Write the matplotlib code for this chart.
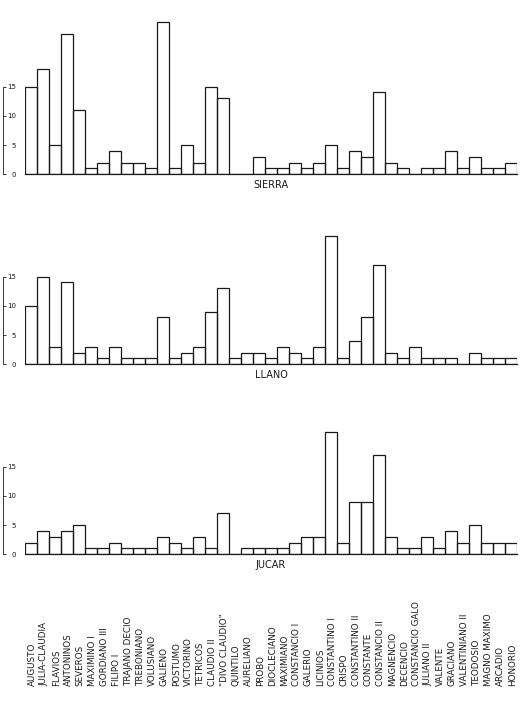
import matplotlib.pyplot as plt
import matplotlib.transforms as mtransforms
import numpy as np

emperors = ['AUGUSTO', 'JULIA-CLAUDIA', 'FLAVIOS', 'ANTONINOS', 'SEVEROS',
            'MAXIMINO I', 'GORDIANO III', 'FILIPO I', 'TRAJANO DECIO',
            'TREBONIANO', 'VOLUSIANO', 'GALIENO', 'POSTUMO', 'VICTORINO',
            'TETRICOS', 'CLAUDIO II', '"DIVO CLAUDIO"', 'QUINTILO',
            'AURELIANO', 'PROBO', 'DIOCLECIANO', 'MAXIMIANO', 'CONSTANCIO I',
            'GALERIO', 'LICINIOS', 'CONSTANTINO I', 'CRISPO',
            'CONSTANTINO II', 'CONSTANTE', 'CONSTANCIO II', 'MAGNENCIO',
            'DECENCIO', 'CONSTANCIO GALO', 'JULIANO II', 'VALENTE',
            'GRACIANO', 'VALENTINIANO II', 'TEODOSIO', 'MAGNO MAXIMO',
            'ARCADIO', 'HONORIO']

sierra = [15, 18, 5, 24, 11, 1, 2, 4, 2, 2, 1, 26, 1, 5, 2, 15, 13, 0, 0, 3,
          1, 1, 2, 1, 2, 5, 1, 4, 3, 14, 2, 1, 0, 1, 1, 4, 1, 3, 1, 1, 2]
llano = [10, 15, 3, 14, 2, 3, 1, 3, 1, 1, 1, 8, 1, 2, 3, 9, 13, 1, 2, 2,
         1, 3, 2, 1, 3, 22, 1, 4, 8, 17, 2, 1, 3, 1, 1, 1, 0, 2, 1, 1, 1]
jucar = [2, 4, 3, 4, 5, 1, 1, 2, 1, 1, 1, 3, 2, 1, 3, 1, 7, 0, 1, 1,
         1, 1, 2, 3, 3, 21, 2, 9, 9, 17, 3, 1, 1, 3, 1, 4, 2, 5, 2, 2, 2]

panels = [('SIERRA', sierra), ('LLANO', llano), ('JUCAR', jucar)]
ink = '#1a1a1a'

fig = plt.figure(figsize=(5.31, 7.17), dpi=100)
bottoms = [0.757, 0.492, 0.227]
x = np.arange(len(emperors))

for (name, vals), b in zip(panels, bottoms):
    ax = fig.add_axes([0.047, b, 0.9266, 0.22])
    ax.bar(x, vals, width=1.0, fill=False, edgecolor=ink, linewidth=0.9)
    ax.set_xlim(-0.5, len(emperors) - 0.5)
    ax.set_ylim(0, 27)
    ax.spines['top'].set_visible(False)
    ax.spines['right'].set_visible(False)
    ax.spines['bottom'].set_color(ink)
    ax.spines['bottom'].set_linewidth(0.9)
    ax.spines['left'].set_position(('outward', 16))
    ax.spines['left'].set_bounds(0, 15)
    ax.spines['left'].set_linewidth(0.6)
    ax.spines['left'].set_color(ink)
    ax.set_xticks([])
    ax.set_yticks([0, 5, 10, 15])
    ax.tick_params(axis='y', direction='in', length=2, width=0.6,
                   pad=-9.5, labelsize=5, colors=ink)
    ax.annotate(name, xy=(0.5, 0), xycoords='axes fraction',
                xytext=(0, -4), textcoords='offset points',
                ha='center', va='top', fontsize=7, color=ink)

trans = mtransforms.blended_transform_factory(ax.transData, ax.transAxes)
for i, lab in enumerate(emperors):
    ax.text(i + 0.1, -0.835, lab, transform=trans, rotation=90,
            ha='center', va='bottom', fontsize=6.3, color=ink)

fig.savefig('out.png', dpi=100, facecolor='white')
